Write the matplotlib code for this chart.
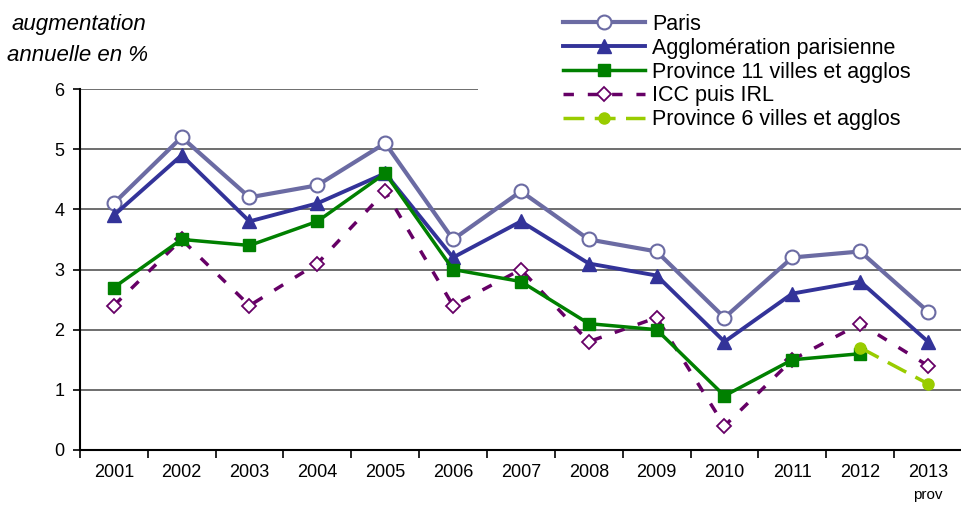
import numpy as np
import matplotlib.pyplot as plt
from matplotlib.patches import Rectangle

plt.rcParams['font.family'] = ['Liberation Sans', 'DejaVu Sans']

years = ['2001', '2002', '2003', '2004', '2005', '2006', '2007',
         '2008', '2009', '2010', '2011', '2012', '2013']
paris = [4.1, 5.2, 4.2, 4.4, 5.1, 3.5, 4.3, 3.5, 3.3, 2.2, 3.2, 3.3, 2.3]
agglo = [3.9, 4.9, 3.8, 4.1, 4.6, 3.2, 3.8, 3.1, 2.9, 1.8, 2.6, 2.8, 1.8]
prov11 = [2.7, 3.5, 3.4, 3.8, 4.6, 3.0, 2.8, 2.1, 2.0, 0.9, 1.5, 1.6, np.nan]
icc_irl = [2.4, 3.5, 2.4, 3.1, 4.3, 2.4, 3.0, 1.8, 2.2, 0.4, 1.5, 2.1, 1.4]
prov6 = [np.nan] * 11 + [1.7, 1.1]

x = np.arange(len(years))

fig = plt.figure(figsize=(9.62, 5.09), dpi=100)
ax = fig.add_axes([0.083, 0.116, 0.917, 0.709])

for v in range(1, 7):
    ax.axhline(v, color='#555555', lw=1.2, zorder=0)

ax.plot(x, paris, color='#6B6BA3', lw=3, marker='o', ms=10,
        mfc='white', mec='#6B6BA3', mew=1.5, label='Paris', zorder=3)
ax.plot(x, agglo, color='#333399', lw=2.8, marker='^', ms=10,
        mfc='#333399', mec='#333399', label='Agglomération parisienne', zorder=4)
ax.plot(x, prov11, color='#008000', lw=2.5, marker='s', ms=8,
        mfc='#008000', mec='#008000', label='Province 11 villes et agglos', zorder=5)
ax.plot(x, icc_irl, color='#660066', lw=2.5, ls=(0, (3, 4)), marker='D', ms=7,
        mfc='white', mec='#660066', mew=1.3, label='ICC puis IRL', zorder=2)
ax.plot(x, prov6, color='#99CC00', lw=2.5, ls=(0, (6, 3)), marker='o', ms=8,
        mfc='#99CC00', mec='#99CC00', label='Province 6 villes et agglos', zorder=6)

ax.set_xlim(-0.5, len(years) - 0.5)
ax.set_ylim(0, 6)
ax.set_yticks(range(0, 7))
ax.set_xticks(x)
ax.set_xticklabels(years, fontsize=13)
ax.set_xticks(np.arange(-0.5, len(years), 1), minor=True)
ax.tick_params(axis='x', which='major', length=0, pad=10)
ax.tick_params(axis='x', which='minor', length=6, width=1.2, direction='out')
ax.tick_params(axis='y', labelsize=13, length=5, width=1.2, direction='out', pad=6)
ax.text(len(years) - 1, -0.75, 'prov', fontsize=11, ha='center', va='center')

for s in ['top', 'right']:
    ax.spines[s].set_visible(False)
for s in ['left', 'bottom']:
    ax.spines[s].set_linewidth(1.5)

fig.text(0.082, 0.951, 'augmentation', style='italic', fontsize=16, ha='center', va='center')
fig.text(0.081, 0.890, 'annuelle en %', style='italic', fontsize=16, ha='center', va='center')

# white block behind the legend hides the top gridline
ax.add_patch(Rectangle((478 / 962, 1 - 130 / 509), 1, 130 / 509,
                       transform=fig.transFigure, facecolor='white',
                       edgecolor='none', zorder=8, clip_on=False))

leg = ax.legend(loc='upper left', bbox_to_anchor=(563 / 962, 1 - 14 / 509),
                bbox_transform=fig.transFigure, fontsize=15.5, frameon=False,
                handlelength=3.8, handletextpad=0.33, labelspacing=0.13,
                borderpad=0, borderaxespad=0)
leg.set_zorder(10)

fig.savefig('out.png', dpi=100)
